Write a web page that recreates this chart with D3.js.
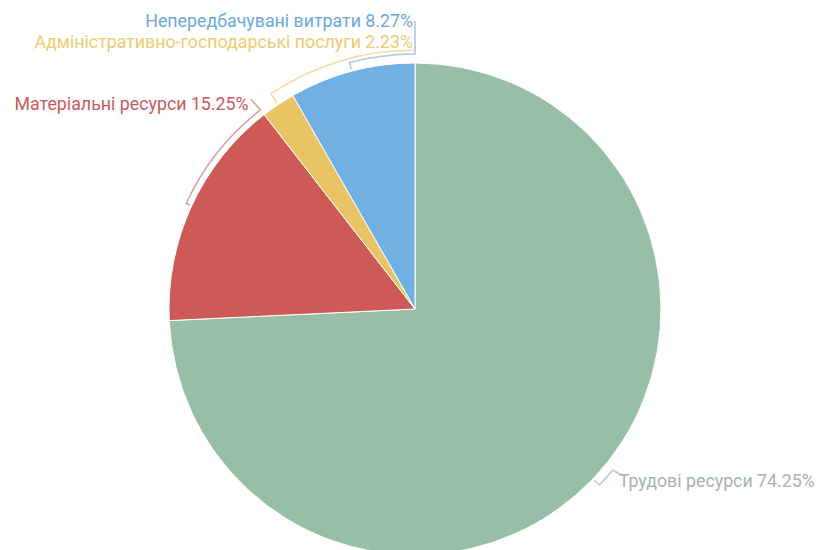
<!DOCTYPE html>
<html>
<head>
<meta charset="utf-8">
<script src="https://cdn.jsdelivr.net/npm/d3@7"></script>
<style>
  html, body { margin: 0; padding: 0; background: #ffffff; }
  svg { display: block; }
  text { font-family: Roboto, "Noto Sans", sans-serif; }
</style>
</head>
<body>
<svg id="chart" width="819" height="550"></svg>
<script>
// Budget structure (shares, %)
const categories = [
  "Трудові ресурси",
  "Матеріальні ресурси",
  "Адміністративно-господарські послуги",
  "Непередбачувані витрати"
];
const shares = [74.25, 15.25, 2.23, 8.27];

// Palette
const sliceColors = ["#97bfa7", "#cd5a56", "#e8c464", "#70b0e2"];
const labelColors = ["#a3b5aa", "#c95a5b", "#efcb72", "#6aa9dc"];
const leaderColors = ["#b5cfc0", "#d9a0a0", "#f2dca0", "#a8c8e4"];

const width = 819, height = 550;
const cx = 415, cy = 309, R = 246;
const deg = Math.PI / 180;

const svg = d3.select("#chart");
const g = svg.append("g").attr("transform", `translate(${cx},${cy})`);

const pie = d3.pie().sort(null).value(d => d.value).startAngle(0).endAngle(2 * Math.PI);
const data = categories.map((name, i) => ({ name, value: shares[i], i }));
const arcs = pie(data);

const arc = d3.arc().innerRadius(0).outerRadius(R);

g.selectAll("path.slice")
  .data(arcs)
  .join("path")
  .attr("class", "slice")
  .attr("d", arc)
  .attr("fill", d => sliceColors[d.data.i])
  .attr("stroke", "#ffffff")
  .attr("stroke-width", 1);

// Point on a circle of radius r at angle a (clockwise from 12 o'clock)
const pt = (r, a) => [r * Math.sin(a), -r * Math.cos(a)];

// Leader layout: each leader rises from the slice's mid angle, follows the
// rim on its own ring, then runs to the label's anchor point.
const leaderLayout = [
  { ring: 9,  target: d => d.startAngle + (d.endAngle - d.startAngle) / 2 - 4.5 * deg,
    anchor: (p) => [p[0] + 9, p[1] + 5], label: (p) => [p[0] + 6, p[1] + 17], align: "start" },
  { ring: 6,  target: d => d.endAngle,
    anchor: (p) => [p[0] - 10, p[1] - 11], label: (p) => [p[0] - 12, p[1]], align: "end" },
  { ring: 13, target: d => 2 * Math.PI,
    anchor: () => [0, -R - 20], label: () => [-2, -R - 15], align: "end" },
  { ring: 9,  target: d => 2 * Math.PI,
    anchor: () => [0, -R - 42], label: () => [-2, -R - 36], align: "end" }
];

const leaders = g.append("g");
const labels = g.append("g");

arcs.forEach(d => {
  const L = leaderLayout[d.data.i];
  const mid = (d.startAngle + d.endAngle) / 2;
  const rr = R + L.ring;
  const ta = L.target(d);
  const p0 = pt(R + 2, mid);
  const p1 = pt(rr, mid);
  const p2 = pt(rr, ta);
  const anchor = L.anchor(p2);
  const path = d3.path();
  path.moveTo(p0[0], p0[1]);
  path.lineTo(p1[0], p1[1]);
  // d3.path arc angles are measured from the +x axis
  const s = mid - Math.PI / 2, e = ta - Math.PI / 2;
  path.arc(0, 0, rr, s, e, e < s);
  path.lineTo(anchor[0], anchor[1]);
  leaders.append("path")
    .attr("d", path.toString())
    .attr("fill", "none")
    .attr("stroke", leaderColors[d.data.i])
    .attr("stroke-width", 1.5);

  const lp = L.label(p2);
  labels.append("text")
    .attr("x", lp[0])
    .attr("y", lp[1])
    .attr("text-anchor", L.align)
    .attr("font-size", 17.8)
    .attr("fill", labelColors[d.data.i])
    .text(`${d.data.name} ${d.data.value.toFixed(2)}%`);
});
</script>
</body>
</html>
